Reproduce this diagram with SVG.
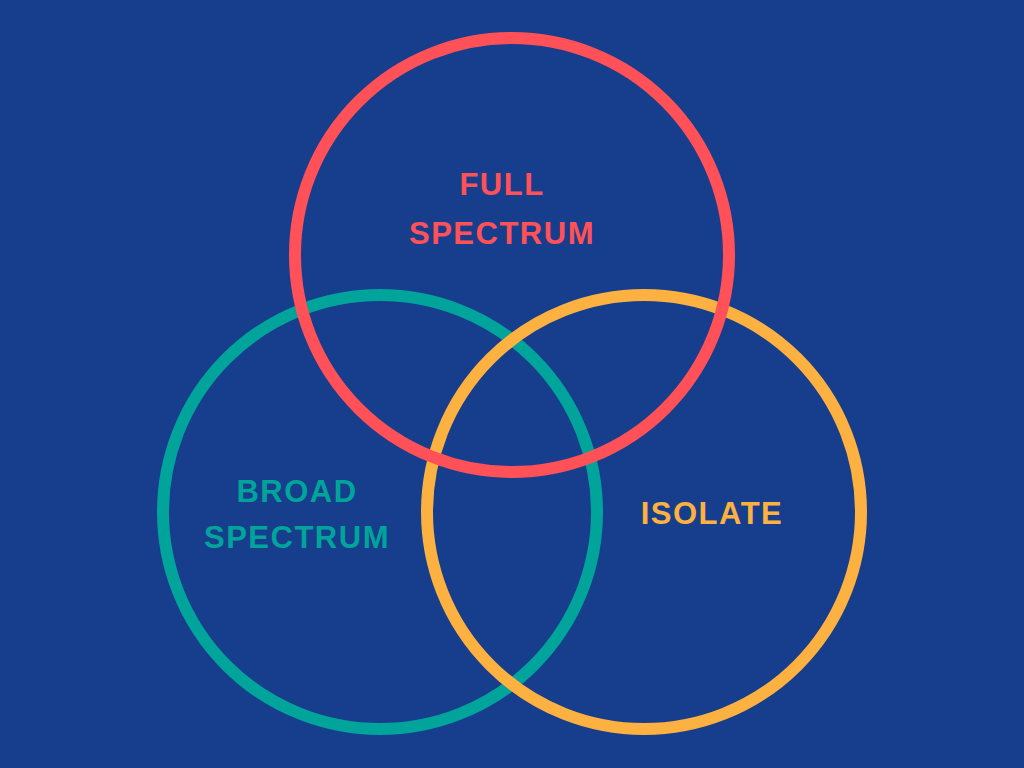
<svg xmlns="http://www.w3.org/2000/svg" width="1024" height="768" viewBox="0 0 1024 768">
<style>
.c{fill:none;stroke-width:12}
.t{font-family:"Liberation Sans",Arial,sans-serif;font-weight:bold;font-size:31px;text-anchor:middle;letter-spacing:1.5px}
</style>
<rect width="1024" height="768" fill="#173E8C"/>
<g id="broad"><circle class="c" cx="380" cy="512" r="217" stroke="#00A49A"/>
<text class="t" fill="#00A49A" x="297" y="502">BROAD</text><text class="t" fill="#00A49A" x="297" y="548">SPECTRUM</text></g>
<g id="isolate"><circle class="c" cx="644" cy="512" r="217" stroke="#FDB140"/>
<text class="t" fill="#FDB140" x="712" y="524">ISOLATE</text></g>
<g id="full"><circle class="c" cx="512" cy="255" r="217" stroke="#FF5157"/>
<text class="t" fill="#FF5157" x="502" y="195">FULL</text><text class="t" fill="#FF5157" x="502" y="244">SPECTRUM</text></g>
<g id="connectors"></g>
</svg>
